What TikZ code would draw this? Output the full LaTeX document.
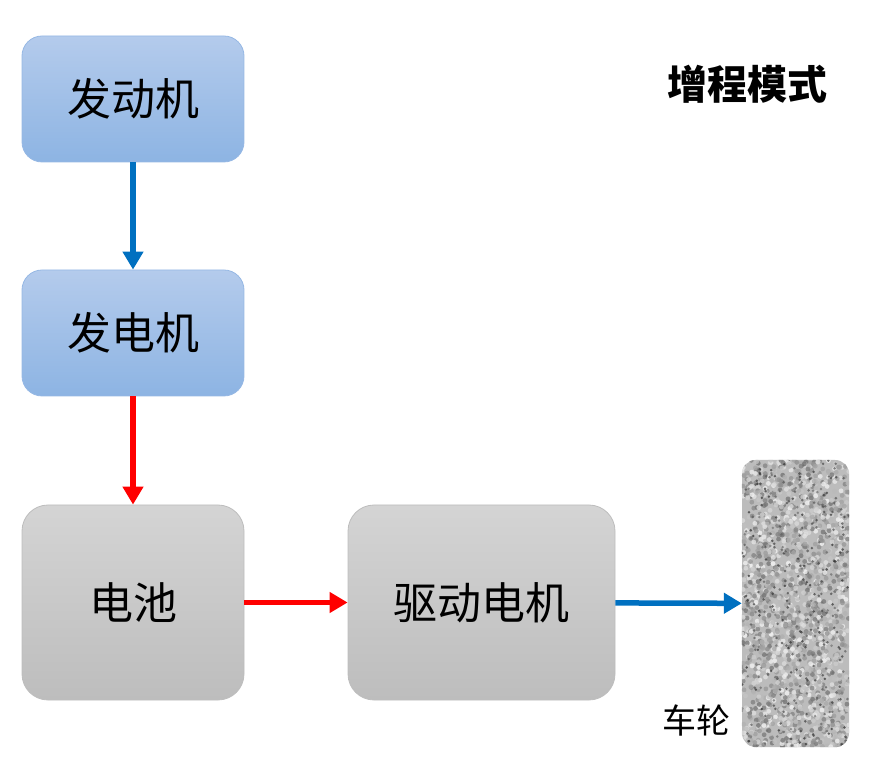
\documentclass[tikz,border=0pt]{standalone}
\usepackage{fontspec}
\newfontfamily\cjk{Noto Sans CJK SC}
\usetikzlibrary{arrows.meta}
\definecolor{boxblueT}{RGB}{180,203,236}
\definecolor{boxblueB}{RGB}{141,180,227}
\definecolor{boxblueD}{RGB}{150,184,228}
\definecolor{boxgrayT}{RGB}{212,212,212}
\definecolor{boxgrayB}{RGB}{189,189,189}
\definecolor{flowblue}{RGB}{0,112,192}
\begin{document}
\begin{tikzpicture}[x=1pt,y=1pt,font=\cjk,
  blockblue/.style={draw=boxblueD,line width=0.8pt,rounded corners=20pt,top color=boxblueT,bottom color=boxblueB,
    minimum width=222pt,minimum height=126pt,font=\cjk\fontsize{44}{44}\selectfont},
  blockgray/.style={draw=boxgrayB,line width=0.8pt,rounded corners=26pt,top color=boxgrayT,bottom color=boxgrayB,
    minimum height=195pt,font=\cjk\fontsize{44}{44}\selectfont},
  linkblue/.style={flowblue,line width=5.5pt,-{Triangle[length=18pt,width=20pt]}},
  linkred/.style={red,line width=5.5pt,-{Triangle[length=18pt,width=20pt]}}]
  \useasboundingbox (0,0) rectangle (886,766);
  \node[blockblue] (engine) at (133,667) {发动机};
  \node[blockblue] (generator) at (133,433) {发电机};
  \node[blockgray,minimum width=222pt] (battery) at (133,163.5) {电池};
  \node[blockgray,minimum width=267pt] (motor) at (481.5,163.5) {驱动电机};
  \node[fill={rgb,255:red,188;green,188;blue,188},rounded corners=14pt,minimum width=107pt,minimum height=287pt,inner sep=0pt]
    (wheel) at (795.5,162.5) {};
  % tyre texture
  \begin{scope}
    \clip[rounded corners=14pt] (wheel.south west) rectangle (wheel.north east);
    \pgfmathsetseed{7}
    \foreach \i in {1,...,1800} {
      \pgfmathsetmacro\px{742+107*rnd}
      \pgfmathsetmacro\py{19+287*rnd}
      \pgfmathsetmacro\g{int(5+50*rnd)}
      \fill[black!\g!white,opacity=0.8] (\px,\py) circle (2.4);
    }
    \foreach \i in {1,...,350} {
      \pgfmathsetmacro\px{742+107*rnd}
      \pgfmathsetmacro\py{19+287*rnd}
      \pgfmathsetmacro\g{int(55+30*rnd)}
      \fill[black!\g!white,opacity=0.7] (\px,\py) circle (1.4);
    }
  \end{scope}
  \node[font=\cjk\bfseries\fontsize{40}{40}\selectfont] (title) at (747,682) {增程模式};
  \node[font=\cjk\fontsize{34}{34}\selectfont] (wheeltext) at (696,46) {车轮};
  \draw[linkblue] (engine) -- (generator);
  \draw[linkred] (generator) -- (battery);
  \draw[linkred] (battery) -- (motor);
  \draw[linkblue] (motor) -- (wheel);
\end{tikzpicture}
\end{document}
